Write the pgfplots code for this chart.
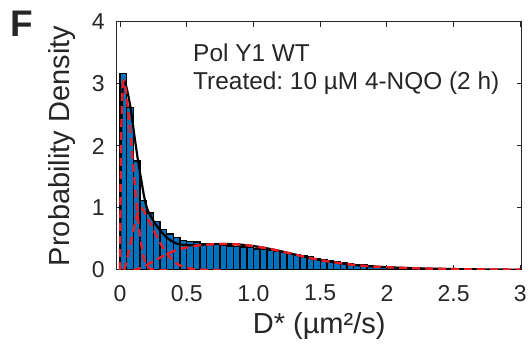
\documentclass[border=0pt]{standalone}
\usepackage{fontspec}
\setmainfont{Liberation Sans}
\usepackage{pgfplots}
\pgfplotsset{compat=1.18}
\definecolor{matblue}{rgb}{0,0.447,0.741}
\definecolor{fitred}{rgb}{0.93,0.11,0.14}
\definecolor{axgray}{rgb}{0.15,0.15,0.15}
\frenchspacing
\begin{document}
\begin{tikzpicture}
\begin{axis}[
  scale only axis, width=202.5pt, height=124pt,
  xmin=-0.025, xmax=3.01, ymin=0, ymax=4,
  xtick={0,0.5,1,1.5,2,2.5,3}, xticklabels={0,0.5,1.0,1.5,2,2.5,3},
  ytick={0,1,2,3,4},
  tick align=inside, major tick length=2.5pt,
  axis line style={axgray, line width=0.5pt},
  tick style={axgray, line width=0.5pt},
  /pgf/number format/assume math mode=true,
  ticklabel style={font=\fontsize{11.5}{13}\selectfont, text=axgray},
  xticklabel style={yshift=-4pt},
  yticklabel style={xshift=-2.5pt},
  xlabel={D* (µm²/s)}, ylabel={Probability Density},
  label style={font=\fontsize{14.5}{16}\selectfont, text=axgray},
  xlabel style={at={([yshift=-28pt]axis description cs:0.5,0)}, anchor=center},
  ylabel style={at={([xshift=-27.5pt]axis description cs:0,0.5)}, anchor=center},
]
\addplot[ybar interval, fill=matblue, draw=black, line width=0.7pt] coordinates {
(0,3.17) (0.05,2.62) (0.1,1.76) (0.15,1.12) (0.2,0.92) (0.25,0.78) (0.3,0.65) (0.35,0.58) (0.4,0.52) (0.45,0.48)
(0.5,0.46) (0.55,0.45) (0.6,0.43) (0.65,0.42) (0.7,0.41) (0.75,0.40) (0.8,0.39) (0.85,0.38) (0.9,0.37) (0.95,0.36)
(1.0,0.34) (1.05,0.33) (1.1,0.31) (1.15,0.30) (1.2,0.28) (1.25,0.27) (1.3,0.24) (1.35,0.23) (1.4,0.21) (1.45,0.19)
(1.5,0.17) (1.55,0.15) (1.6,0.13) (1.65,0.12) (1.7,0.10) (1.75,0.09) (1.8,0.08) (1.85,0.07) (1.9,0.06) (1.95,0.055)
(2.0,0.05) (2.05,0.045) (2.1,0.04) (2.15,0.035) (2.2,0.03) (2.25,0.028) (2.3,0.025) (2.35,0.022) (2.4,0.02) (2.45,0.018)
(2.5,0.016) (2.55,0.014) (2.6,0.013) (2.65,0.012) (2.7,0.011) (2.75,0.01) (2.8,0.009) (2.85,0.008) (2.9,0.007) (2.95,0.006)
(3.0,0.006)};
% total fit
\addplot[black, line width=1.1pt, smooth] coordinates {
(0,0) (0.005,1.4) (0.01,2.3) (0.02,2.95) (0.03,3.05) (0.04,3.01) (0.05,2.93) (0.06,2.83) (0.07,2.72) (0.08,2.60)
(0.09,2.45) (0.1,2.29) (0.11,2.13) (0.12,1.98) (0.13,1.83) (0.14,1.70) (0.15,1.56) (0.16,1.44) (0.18,1.19) (0.2,1.01)
(0.22,0.91) (0.25,0.795) (0.28,0.695) (0.3,0.64) (0.34,0.545) (0.38,0.475) (0.42,0.43) (0.46,0.41) (0.5,0.40) (0.55,0.40)
(0.6,0.406) (0.7,0.416) (0.8,0.42) (0.9,0.41) (1.0,0.385) (1.1,0.35) (1.2,0.305) (1.3,0.255) (1.4,0.205) (1.5,0.16)
(1.6,0.125) (1.7,0.095) (1.8,0.072) (1.9,0.056) (2.0,0.045) (2.1,0.036) (2.2,0.029) (2.4,0.019) (2.6,0.012) (2.8,0.008) (3.0,0.005)};
% component 1
\addplot[fitred, line width=1.2pt, dash pattern=on 4pt off 2.5pt, smooth] coordinates {
(0,0) (0.005,1.4) (0.01,2.3) (0.02,2.95) (0.03,3.05) (0.04,2.95) (0.05,2.78) (0.06,2.58) (0.07,2.37) (0.08,2.15)
(0.09,1.9) (0.1,1.65) (0.11,1.4) (0.12,1.15) (0.13,0.92) (0.14,0.72) (0.15,0.54) (0.16,0.4) (0.18,0.18) (0.2,0.07)
(0.22,0.025) (0.25,0.005) (0.28,0) (0.4,0)};
% component 2
\addplot[fitred, line width=1.2pt, dash pattern=on 4pt off 2.5pt, smooth] coordinates {
(0.03,0) (0.04,0.06) (0.05,0.15) (0.06,0.25) (0.07,0.35) (0.08,0.45) (0.09,0.55) (0.1,0.64) (0.11,0.73) (0.12,0.82)
(0.13,0.9) (0.14,0.96) (0.15,0.99) (0.16,1.0) (0.18,0.95) (0.2,0.86) (0.22,0.78) (0.25,0.65) (0.28,0.52) (0.3,0.44)
(0.34,0.3) (0.38,0.19) (0.42,0.11) (0.46,0.065) (0.5,0.035) (0.55,0.015) (0.6,0.006) (0.7,0.001) (0.8,0)};
% component 3
\addplot[fitred, line width=1.2pt, dash pattern=on 4pt off 2.5pt, smooth] coordinates {
(0.1,0) (0.12,0.008) (0.14,0.02) (0.16,0.04) (0.18,0.06) (0.2,0.08) (0.22,0.105) (0.25,0.14) (0.28,0.175) (0.3,0.2)
(0.34,0.245) (0.38,0.285) (0.42,0.32) (0.46,0.345) (0.5,0.365) (0.55,0.385) (0.6,0.4) (0.7,0.415) (0.8,0.42) (0.9,0.41)
(1.0,0.385) (1.1,0.35) (1.2,0.305) (1.3,0.255) (1.4,0.205) (1.5,0.16) (1.6,0.125) (1.7,0.095) (1.8,0.072) (1.9,0.056)
(2.0,0.045) (2.1,0.036) (2.2,0.029) (2.4,0.019) (2.6,0.012) (2.8,0.008) (3.0,0.005)};
\node[anchor=base west, inner sep=0pt, font=\fontsize{12.2}{14}\selectfont, text=axgray] at (rel axis cs:0.188,0.839) {Pol Y1 WT};
\node[anchor=base west, inner sep=0pt, font=\fontsize{12.2}{14}\selectfont, text=axgray] at (rel axis cs:0.188,0.726) {Treated: 10 µM 4-NQO (2 h)};
\end{axis}
\node[font=\bfseries\fontsize{18.5}{20}\selectfont, text=axgray] at ([shift={(-47.35pt,123.25pt)}]current axis.south west) {F};
\pgfresetboundingbox
\path[use as bounding box] ([shift={(-58.35pt,-38.5pt)}]current axis.south west) rectangle ([shift={(3.65pt,11pt)}]current axis.north east);
\end{tikzpicture}
\end{document}
